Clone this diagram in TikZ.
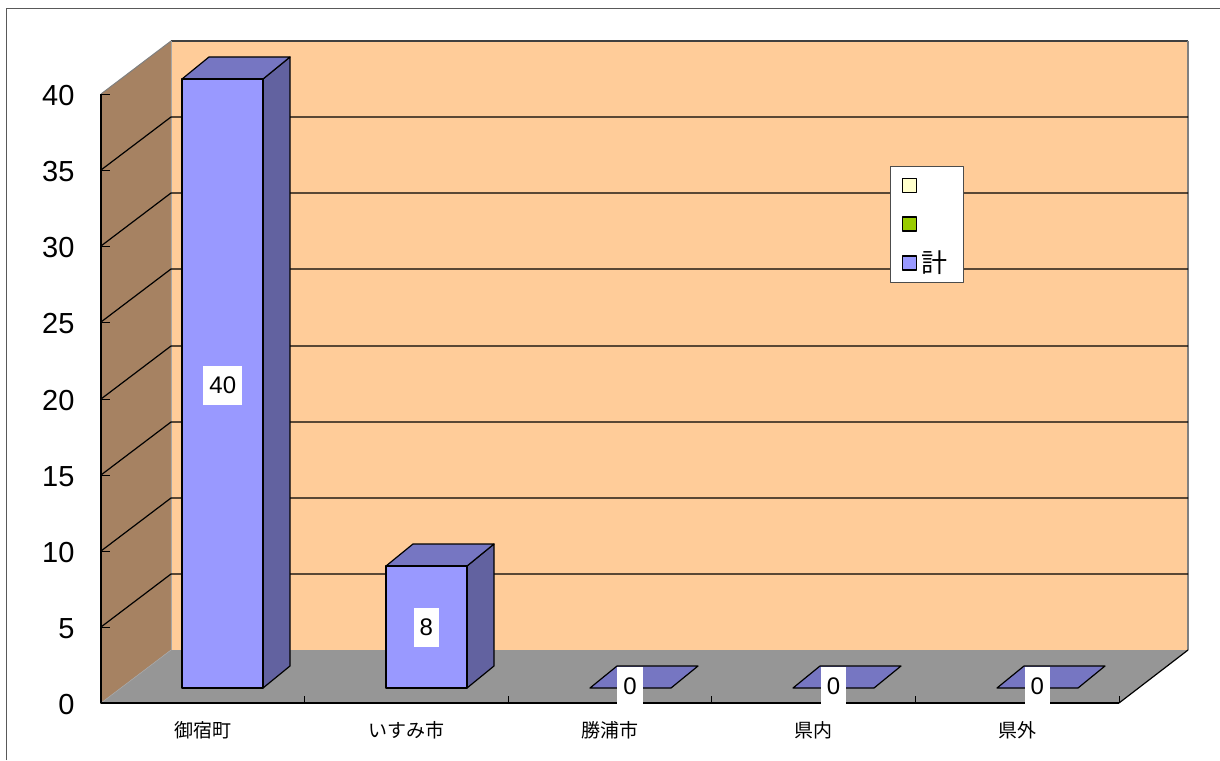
\documentclass[tikz,border=0pt]{standalone}
\usepackage{fontspec}
\setmainfont{Liberation Sans}
\newfontfamily\jp{Noto Sans CJK JP}
\definecolor{backwall}{HTML}{FFCC99}
\definecolor{sidewall}{HTML}{A68262}
\definecolor{floorgray}{HTML}{969696}
\definecolor{barfront}{HTML}{9999FF}
\definecolor{bartop}{HTML}{7676C2}
\definecolor{barside}{HTML}{6262A0}
\definecolor{keyyellow}{HTML}{FFFFCC}
\definecolor{keygreen}{HTML}{99CC00}
\begin{document}
\begin{tikzpicture}[x=1pt, y=-1pt, line join=round,
  grid line/.style={black, line width=1.2pt},
  bar face/.style={draw=black, line width=1.2pt},
  value box/.style={fill=white, inner xsep=6pt, minimum height=39pt, font=\fontsize{24}{26}\selectfont},
  axis label/.style={anchor=east, font=\fontsize{29}{31}\selectfont},
  cat label/.style={font=\jp\fontsize{19}{21}\selectfont},
  key box/.style={draw=black, line width=1.5pt, minimum size=14pt, inner sep=0pt}]
\useasboundingbox (0,0) rectangle (1220,760);
\draw[black!65, line width=1pt] (6,760) -- (6,9) -- (1220,9);
% walls and floor
\begin{scope}
\fill[sidewall] (101,94) -- (171,41) -- (171,650) -- (101,703) -- cycle;
\fill[backwall] (171,41) rectangle (1188,650);
\fill[floorgray] (101,703) -- (171,650) -- (1188,650) -- (1119,703) -- cycle;
\draw[black!50, line width=1pt] (101,94) -- (171,41);
\draw[black!75, line width=1.2pt] (171,41) -- (1188,41);
\draw[black!50, line width=1.2pt] (1188,41) -- (1188,650);
\draw[black!35, line width=.6pt] (171,41) -- (171,650);
\draw[black!35, line width=.6pt] (101,703) -- (171,650);
\end{scope}
% grid lines
\begin{scope}
\draw[grid line] (101,627) -- (171,574) -- (1188,574);
\draw[grid line] (101,551) -- (171,498) -- (1188,498);
\draw[grid line] (101,475) -- (171,422) -- (1188,422);
\draw[grid line] (101,399) -- (171,346) -- (1188,346);
\draw[grid line] (101,322) -- (171,269) -- (1188,269);
\draw[grid line] (101,246) -- (171,193) -- (1188,193);
\draw[grid line] (101,170) -- (171,117) -- (1188,117);
\end{scope}
% axes
\draw[line width=1.2pt] (1119,703) -- (1188,650);
\draw[line width=2pt] (101,94) -- (101,703) -- (1119,703);
\begin{scope}[line width=1pt]
\draw (101,703) -- (110,703);
\draw (101,627) -- (110,627);
\draw (101,551) -- (110,551);
\draw (101,475) -- (110,475);
\draw (101,399) -- (110,399);
\draw (101,322) -- (110,322);
\draw (101,246) -- (110,246);
\draw (101,170) -- (110,170);
\draw (101,94) -- (110,94);
\draw (304,703) -- (304,696);
\draw (508,703) -- (508,696);
\draw (711,703) -- (711,696);
\draw (915,703) -- (915,696);
\draw (1119,703) -- (1119,696);
\end{scope}
% bars
\begin{scope}
\draw[bar face, fill=barside] (263,79) -- (290,57) -- (290,666) -- (263,688) -- cycle;
\draw[bar face, fill=bartop] (182,79) -- (209,57) -- (290,57) -- (263,79) -- cycle;
\draw[bar face, fill=barfront] (182,79) rectangle (263,688);
\draw[bar face, fill=barside] (467,566) -- (494,544) -- (494,666) -- (467,688) -- cycle;
\draw[bar face, fill=bartop] (386,566) -- (413,544) -- (494,544) -- (467,566) -- cycle;
\draw[bar face, fill=barfront] (386,566) rectangle (467,688);
\draw[bar face, fill=bartop] (590,688) -- (617,666) -- (698,666) -- (671,688) -- cycle;
\draw[bar face, fill=bartop] (793,688) -- (820,666) -- (901,666) -- (874,688) -- cycle;
\draw[bar face, fill=bartop] (997,688) -- (1024,666) -- (1105,666) -- (1078,688) -- cycle;
\end{scope}
% labels
\begin{scope}
\node[value box] (v1) at (222.8,385) {40};
\node[value box] (v2) at (426.4,627) {8};
\node[value box] (v3) at (630,686) {0};
\node[value box] (v4) at (833.6,686) {0};
\node[value box] (v5) at (1037.2,686) {0};
\node[axis label] (y0) at (78,705) {0};
\node[axis label] (y5) at (78,629) {5};
\node[axis label] (y10) at (78,553) {10};
\node[axis label] (y15) at (78,477) {15};
\node[axis label] (y20) at (78,401) {20};
\node[axis label] (y25) at (78,324) {25};
\node[axis label] (y30) at (78,248) {30};
\node[axis label] (y35) at (78,172) {35};
\node[axis label] (y40) at (78,96) {40};
\node[cat label] (c1) at (202.8,730) {御宿町};
\node[cat label] (c2) at (406.4,730) {いすみ市};
\node[cat label] (c3) at (610,730) {勝浦市};
\node[cat label] (c4) at (813.6,730) {県内};
\node[cat label] (c5) at (1017.2,730) {県外};
\end{scope}
% legend
\begin{scope}
\draw[fill=white, draw=black!70, line width=1pt] (890,166) rectangle (963,282);
\node[key box, fill=keyyellow] (k1) at (909.5,185.5) {};
\node[key box, fill=keygreen] (k2) at (909.5,224) {};
\node[key box, fill=barfront] (k3) at (909.5,263) {};
\node[anchor=west, inner sep=0pt, font=\jp\fontsize{26}{28}\selectfont] (k3 text) at (921,263) {計};
\end{scope}
\end{tikzpicture}
\end{document}
